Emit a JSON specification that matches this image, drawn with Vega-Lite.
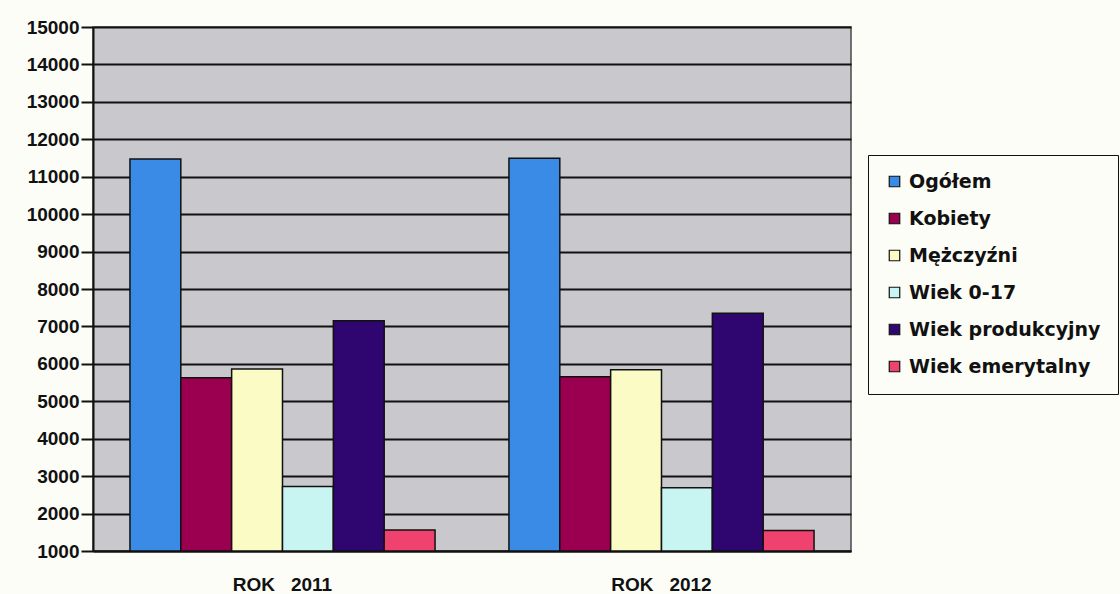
{
  "$schema": "https://vega.github.io/schema/vega-lite/v6.json",
  "width": 758,
  "height": 524,
  "autosize": {"type": "none"},
  "padding": {"left": 93, "top": 27, "right": 269, "bottom": 43},
  "background": "#fdfdf8",
  "config": {"view": {"fill": "#c9c9cd", "stroke": "#4a4a4a", "strokeWidth": 1.5}},
  "data": {
    "values": [
      {"rok": "ROK  2011", "kat": "Ogółem", "wartosc": 11470},
      {"rok": "ROK  2011", "kat": "Kobiety", "wartosc": 5630},
      {"rok": "ROK  2011", "kat": "Mężczyźni", "wartosc": 5860},
      {"rok": "ROK  2011", "kat": "Wiek 0-17", "wartosc": 2720},
      {"rok": "ROK  2011", "kat": "Wiek produkcyjny", "wartosc": 7150},
      {"rok": "ROK  2011", "kat": "Wiek emerytalny", "wartosc": 1560},
      {"rok": "ROK  2012", "kat": "Ogółem", "wartosc": 11490},
      {"rok": "ROK  2012", "kat": "Kobiety", "wartosc": 5655},
      {"rok": "ROK  2012", "kat": "Mężczyźni", "wartosc": 5840},
      {"rok": "ROK  2012", "kat": "Wiek 0-17", "wartosc": 2690},
      {"rok": "ROK  2012", "kat": "Wiek produkcyjny", "wartosc": 7350},
      {"rok": "ROK  2012", "kat": "Wiek emerytalny", "wartosc": 1545}
    ]
  },
  "mark": {"type": "bar", "stroke": "#111111", "strokeWidth": 1.5},
  "encoding": {
    "x": {
      "field": "rok", "type": "nominal", "sort": null,
      "scale": {"paddingInner": 0.195, "paddingOuter": 0.0975},
      "axis": {
        "title": null, "labelAngle": 0, "labelFont": "Liberation Sans", "labelFontSize": 19,
        "labelFontWeight": "bold", "labelColor": "#111111", "labelPadding": 24, "ticks": false,
        "domainColor": "#111111", "domainWidth": 2,
        "labelExpr": "replace(datum.label, '  ', '\u00a0\u00a0\u00a0')"
      }
    },
    "xOffset": {
      "field": "kat", "type": "nominal",
      "sort": ["Ogółem", "Kobiety", "Mężczyźni", "Wiek 0-17", "Wiek produkcyjny", "Wiek emerytalny"],
      "scale": {"paddingInner": 0, "paddingOuter": 0}
    },
    "y": {
      "field": "wartosc", "type": "quantitative",
      "scale": {"domain": [1000, 15000], "nice": false, "zero": false},
      "axis": {
        "title": null, "format": "d",
        "values": [1000, 2000, 3000, 4000, 5000, 6000, 7000, 8000, 9000, 10000, 11000, 12000, 13000, 14000, 15000],
        "grid": true, "gridColor": "#111111", "gridWidth": 2, "gridOpacity": 1,
        "domainColor": "#111111", "domainWidth": 2, "tickColor": "#111111", "tickSize": 12, "tickWidth": 2,
        "labelFont": "Liberation Sans", "labelFontSize": 19, "labelFontWeight": "bold",
        "labelColor": "#111111", "labelPadding": 2
      }
    },
    "y2": {"datum": 1000},
    "color": {
      "field": "kat", "type": "nominal",
      "scale": {
        "domain": ["Ogółem", "Kobiety", "Mężczyźni", "Wiek 0-17", "Wiek produkcyjny", "Wiek emerytalny"],
        "range": ["#3a8be6", "#9b0050", "#fbfbc6", "#c8f5f2", "#2f0570", "#f0426f"]
      },
      "legend": {
        "title": null, "orient": "none", "legendX": 775, "legendY": 128, "direction": "vertical",
        "fillColor": "#fdfdf8", "strokeColor": "#111111", "padding": 17,
        "symbolType": "square", "symbolSize": 110, "symbolStrokeColor": "#111111", "symbolStrokeWidth": 1.2,
        "symbolOpacity": 1,
        "labelFont": "DejaVu Sans", "labelFontSize": 19, "labelFontWeight": "bold", "labelColor": "#111111",
        "rowPadding": 17, "labelLimit": 300, "labelOffset": 5
      }
    }
  }
}
